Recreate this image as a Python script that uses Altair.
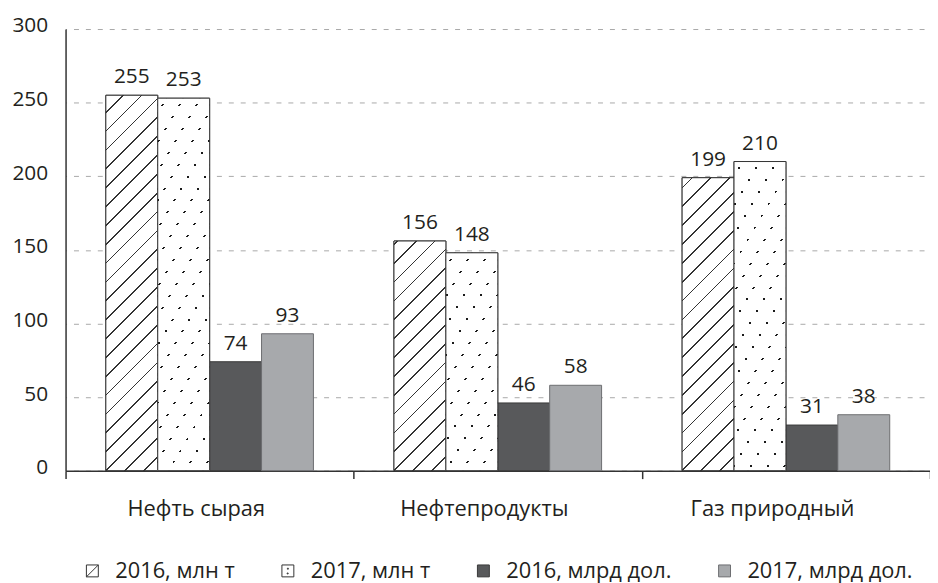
import altair as alt
import pandas as pd

# ---------------- data ----------------
categories = ["Нефть сырая", "Нефтепродукты", "Газ природный"]
series = ["2016, млн т", "2017, млн т", "2016, млрд дол.", "2017, млрд дол."]
values_2016_t = [255, 156, 199]
values_2017_t = [253, 148, 210]
values_2016_usd = [74, 46, 31]
values_2017_usd = [93, 58, 38]
y_ticks = [0, 50, 100, 150, 200, 250, 300]

series_values = [values_2016_t, values_2017_t, values_2016_usd, values_2017_usd]
rows = []
for i, c in enumerate(categories):
    for s, vals in zip(series, series_values):
        rows.append({"cat": c, "ser": s, "val": vals[i]})
df = pd.DataFrame(rows)

# ---------------- layout / style ----------------
FONT = "Open Sans"
TXT = "#231f20"
W, H = 871, 445
YMAX = 300
PAD_OUT = 0.776
band_w = W / len(categories)
bar_w = band_w / (len(series) + 2 * PAD_OUT)

fill_range = ["#ffffff", "#ffffff", "#58595b", "#a7a9ac"]
stroke_range = ["#333333", "#333333", "#3a3a3a", "#6d6e71"]

SQ = "M-1,-1L1,-1L1,1L-1,1Z"
hatch_icon = SQ + " M-1,1L1,-1"
dots_icon = SQ + " M-0.08,-0.45L0.08,-0.45L0.08,-0.29L-0.08,-0.29Z M-0.12,0.35L0.04,0.35L0.04,0.51L-0.12,0.51Z"
shape_range = [hatch_icon, dots_icon, SQ, SQ]


def stripes(alpha, beta, w, h, period, thick, phase, on, off):
    """Linear-gradient stripe texture (bbox units) with lines alpha*x + beta*y = const."""
    L = alpha * w + beta * h
    denom = alpha ** 2 * w ** 2 + beta ** 2 * h ** 2
    x2 = alpha * w * L / denom
    y2 = beta * h * L / denom
    stops = [{"offset": 0, "color": off}]
    c = phase
    while c - thick / 2 < L:
        a = max(0.0, (c - thick / 2) / L)
        b = min(1.0, (c + thick / 2) / L)
        if b > 0:
            for o, col in ((a, off), (a, on), (b, on), (b, off)):
                stops.append({"offset": round(o, 6), "color": col})
        c += period
    stops.append({"offset": 1, "color": off})
    return {"gradient": "linear", "x1": 0, "y1": 0, "x2": x2, "y2": y2, "stops": stops}


x_enc = alt.X(
    "cat:N",
    sort=categories,
    scale=alt.Scale(domain=categories, paddingInner=0, paddingOuter=0),
    axis=alt.Axis(
        title=None, labelAngle=0, labelFont=FONT, labelFontSize=22, labelColor=TXT,
        labelPadding=20, labelOffset=-14, tickBand="extent", tickSize=8, tickColor="#333333",
        tickWidth=1.5, domainColor="#333333", domainWidth=1.5, grid=False,
    ),
)
xo_enc = alt.XOffset(
    "ser:N", sort=series,
    scale=alt.Scale(domain=series, paddingInner=0, paddingOuter=PAD_OUT),
)
y_enc = alt.Y(
    "val:Q",
    scale=alt.Scale(domain=[0, YMAX], nice=False),
    axis=alt.Axis(
        title=None, values=y_ticks, labelFont=FONT, labelFontSize=21, labelColor=TXT,
        labelPadding=18, ticks=False, labelBaseline="alphabetic", labelOffset=3,
        domainColor="#333333", domainWidth=1.5, grid=True, gridColor="#a8a8a8",
        gridDash=[5, 7], gridDashOffset=4, gridWidth=1,
    ),
)

fill_scale = alt.Scale(domain=series, range=fill_range)
stroke_scale = alt.Scale(domain=series, range=stroke_range)
shape_scale = alt.Scale(domain=series, range=shape_range)

leg = alt.Legend(
    title=None, orient="none", legendX=16, legendY=535, direction="horizontal",
    columnPadding=42, labelFont=FONT, labelFontSize=22, labelColor=TXT,
    labelOffset=12, labelLimit=0, symbolSize=144, symbolStrokeWidth=1, symbolOpacity=1,
)

base = alt.Chart(df).mark_bar(strokeWidth=1).encode(
    x=x_enc, xOffset=xo_enc, y=y_enc,
    fill=alt.Fill("ser:N", scale=fill_scale, legend=leg),
    stroke=alt.Stroke("ser:N", scale=stroke_scale, legend=leg),
)

layers = [base]
for i, c in enumerate(categories):
    # hatched 2016 (mln t)
    h1 = values_2016_t[i] / YMAX * H
    g1 = stripes(1, 1, bar_w, h1, 19, 1.8, h1 % 19, "#333333", "#ffffff")
    layers.append(
        alt.Chart(df)
        .transform_filter(f"datum.cat === '{c}' && datum.ser === '{series[0]}'")
        .mark_bar(fill=g1, stroke="#333333", strokeWidth=1)
        .encode(x=x_enc, xOffset=xo_enc, y=y_enc)
    )
    # dotted 2017 (mln t): dot rows under slanted white mask with transparent windows
    h2 = values_2017_t[i] / YMAX * H
    g_rows = stripes(0, 1, bar_w, h2, 12, 2, 7, "#1a1a1a", "#ffffff")
    g_win = stripes(1, 7 / 12, bar_w, h2, 17, 2, 9, "rgba(255,255,255,0)", "#ffffff")
    flt = f"datum.cat === '{c}' && datum.ser === '{series[1]}'"
    layers.append(
        alt.Chart(df).transform_filter(flt)
        .mark_bar(fill=g_rows, strokeWidth=0)
        .encode(x=x_enc, xOffset=xo_enc, y=y_enc)
    )
    layers.append(
        alt.Chart(df).transform_filter(flt)
        .mark_bar(fill=g_win, stroke="#333333", strokeWidth=1)
        .encode(x=x_enc, xOffset=xo_enc, y=y_enc)
    )

labels = alt.Chart(df).mark_text(
    font=FONT, fontSize=21, color=TXT, baseline="alphabetic", dy=-12
).encode(x=x_enc, xOffset=xo_enc, y=y_enc, text="val:Q")
layers.append(labels)

legend_layer = alt.Chart(df).transform_filter("false").mark_point(filled=True, opacity=1).encode(
    x=x_enc, y=y_enc,
    fill=alt.Fill("ser:N", scale=fill_scale, legend=leg),
    stroke=alt.Stroke("ser:N", scale=stroke_scale, legend=leg),
    shape=alt.Shape("ser:N", scale=shape_scale, legend=leg),
)
layers.append(legend_layer)

chart = (
    alt.layer(*layers)
    .properties(
        width=W, height=H,
        autosize=alt.AutoSizeParams(type="none"),
        padding={"left": 58, "top": 19, "right": 0, "bottom": 111},
        background="white",
    )
    .configure_view(stroke=None)
)

chart.save("out.html", embed_options={"renderer": "svg", "actions": False})
